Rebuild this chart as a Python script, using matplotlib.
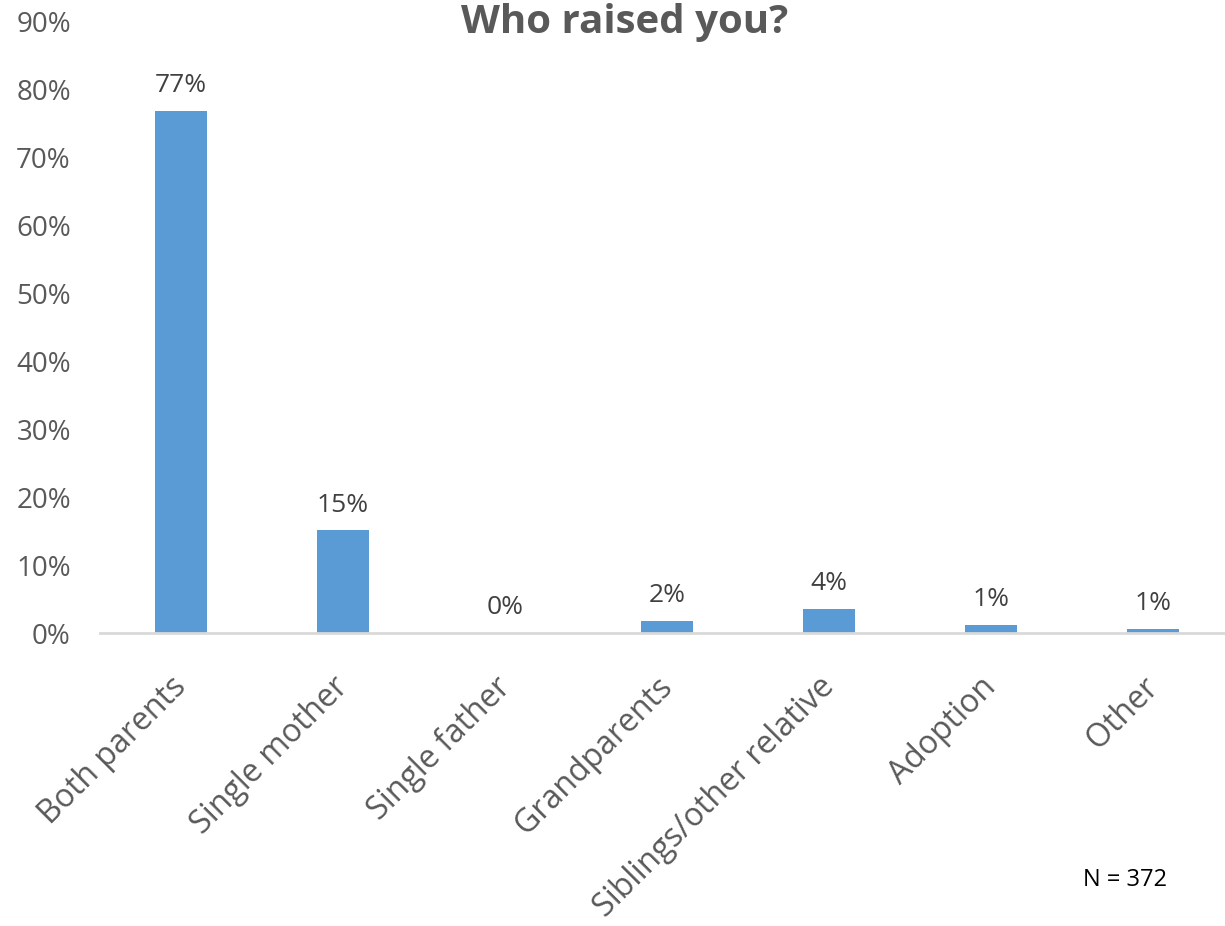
import matplotlib.pyplot as plt
import matplotlib.transforms as mtransforms
import numpy as np

# Survey data
categories = ['Both parents', 'Single mother', 'Single father', 'Grandparents',
              'Siblings/other relative', 'Adoption', 'Other']
values = [76.9, 15.1, 0.0, 1.8, 3.6, 1.2, 0.6]
value_labels = ['77%', '15%', '0%', '2%', '4%', '1%', '1%']
y_ticks = [0, 10, 20, 30, 40, 50, 60, 70, 80, 90]

plt.rcParams['font.family'] = ['Open Sans', 'DejaVu Sans']
text_color = '#595959'
bar_color = '#5B9BD5'

fig = plt.figure(figsize=(12.25, 9.26), dpi=100)
ax = fig.add_axes([100 / 1225, 1 - 633 / 926, 1 - 100 / 1225, 611 / 926])

x = np.arange(len(categories))
ax.bar(x, values, width=0.32, color=bar_color, zorder=2)

# value labels above bars
for xi, v, lab in zip(x, values, value_labels):
    ax.annotate(lab, (xi, v), xytext=(0, 9), textcoords='offset points',
                ha='center', va='bottom', fontsize=19, color='#404040')

ax.set_xlim(-0.5, -0.5 + 1125 / 162)
ax.set_ylim(0, 90)
ax.set_yticks(y_ticks)
ax.set_yticklabels([f'{t}%' for t in y_ticks], fontsize=20, color=text_color)
ax.tick_params(axis='y', length=0, pad=21)

ax.set_xticks(x)
ax.set_xticklabels(categories, rotation=45, ha='right', rotation_mode='anchor',
                   fontsize=23, color=text_color)
ax.tick_params(axis='x', length=0, pad=27)
# nudge the rotated labels a bit to the left
shift = mtransforms.ScaledTranslation(-11 / 100, 0, fig.dpi_scale_trans)
for lbl in ax.get_xticklabels():
    lbl.set_transform(lbl.get_transform() + shift)

for side in ['top', 'right', 'left']:
    ax.spines[side].set_visible(False)
ax.spines['bottom'].set_color('#D9D9D9')
ax.spines['bottom'].set_linewidth(2)

fig.text(625 / 1225, 1 - 22 / 926, 'Who raised you?', ha='center', va='center',
         fontsize=29, fontweight='bold', color=text_color)
fig.text(1125 / 1225, 1 - 880 / 926, 'N = 372', ha='center', va='center',
         fontsize=17, color='black')

fig.savefig('out.png', dpi=100)
